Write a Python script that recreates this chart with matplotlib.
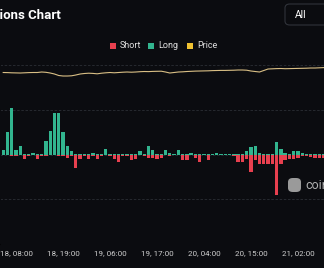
import numpy as np
import pandas as pd
import matplotlib.pyplot as plt
from matplotlib.patches import FancyBboxPatch, Rectangle

plt.rcParams['font.family'] = ['Roboto', 'DejaVu Sans']

# hourly liquidations (millions USD) and price
hours = pd.date_range('2024-06-18 05:00', periods=76, freq='h')
long_liq = [0.11, 0.49, 1.04, 0.09, 0.2, 0.01, 0.02, 0.04, 0.01, 0.02,
            0.29, 0.53, 0.93, 0.93, 0.49, 0.2, 0.07, 0.01, 0.01, 0.02,
            0.01, 0.04, 0.01, 0.02, 0.13, 0.01, 0.01, 0.01, 0.02, 0.02,
            0.01, 0.02, 0.07, 0.02, 0.18, 0.11, 0.02, 0.02, 0.11, 0.03,
            0.02, 0.09, 0.01, 0.01, 0.03, 0.01, 0.01, 0.02, 0.01, 0.02,
            0.04, 0.02, 0.02, 0.02, 0.01, 0.01, 0.02, 0.07, 0.16, 0.2,
            0.04, 0.01, 0.01, 0.02, 0.27, 0.13, 0.04, 0.02, 0.07, 0.07,
            0.03, 0.02, 0.02, 0.01, 0.02, 0.02]
short_liq = [0.01, 0.02, 0.04, 0.04, 0.02, 0.11, 0.04, 0.02, 0.11, 0.04,
             0.04, 0.02, 0.02, 0.04, 0.04, 0.07, 0.04, 0.29, 0.11, 0.04,
             0.09, 0.04, 0.11, 0.04, 0.02, 0.04, 0.11, 0.16, 0.04, 0.04,
             0.13, 0.09, 0.02, 0.04, 0.07, 0.07, 0.09, 0.07, 0.02, 0.04,
             0.02, 0.02, 0.13, 0.13, 0.02, 0.07, 0.16, 0.02, 0.13, 0.02,
             0.02, 0.02, 0.02, 0.02, 0.04, 0.16, 0.16, 0.09, 0.38, 0.13,
             0.2, 0.2, 0.22, 0.22, 0.89, 0.22, 0.13, 0.11, 0.09, 0.07,
             0.04, 0.04, 0.06, 0.07, 0.07, 0.07]
price = [2437.5, 2437, 2436, 2435.5, 2435, 2436, 2437, 2437.5, 2437.5, 2440,
         2438.5, 2435, 2430, 2422.5, 2420, 2420, 2421, 2425, 2430, 2432.5,
         2434, 2433, 2431, 2434, 2436, 2437.5, 2436, 2437.5, 2439, 2440,
         2439, 2440, 2441.5, 2442.5, 2442, 2443, 2443.5, 2444, 2440, 2435,
         2437.5, 2440, 2441, 2442.5, 2443.5, 2444.5, 2445, 2445.5, 2446, 2447,
         2447.5, 2448, 2448, 2448.5, 2449, 2450, 2450, 2449, 2445, 2442.5,
         2440, 2447.5, 2455, 2456, 2457, 2457.5, 2456.5, 2457, 2457.5, 2458,
         2458.5, 2459, 2460, 2460, 2461, 2462]

bg = '#0b0c10'
red = '#e8404f'
green = '#32b58f'
yellow = '#f0c232'

fig = plt.figure(figsize=(3.24, 2.68), dpi=100, facecolor=bg)
ax = fig.add_axes([0, 0.0877, 1, 0.6716])
ax.set_facecolor(bg)

x = np.arange(len(hours))
ax.bar(x, long_liq, width=0.78, color=green, zorder=3)
ax.bar(x, [-v for v in short_liq], width=0.78, color=red, zorder=3)

ax.set_xlim(-0.75, 75.1)
ax.set_ylim(-2, 2)
ax.set_yticks([-2, -1, 0, 1, 2])
ax.yaxis.grid(True, color='#2b2e35', linestyle=(0, (3, 2)), linewidth=0.6, zorder=0)
ax.tick_params(axis='y', left=False, labelleft=False)

ticks = list(range(3, 76, 11))
ax.set_xticks(ticks)
ax.set_xticklabels([hours[i].strftime('%d, %H:%M') for i in ticks],
                   color='#cfcfcf', fontsize=5.8)
ax.tick_params(axis='x', length=0, pad=4)
for s in ax.spines.values():
    s.set_visible(False)

ax2 = ax.twinx()
ax2.plot(x, price, color='#d9bf85', linewidth=0.8, zorder=4)
ax2.set_ylim(1577.5, 2477.5)
ax2.set_yticks([])
for s in ax2.spines.values():
    s.set_visible(False)

# title (cut off on the left like the screenshot)
fig.text(61 / 324, 1 - 15 / 268, 'Liquidations Chart', color='white',
         fontsize=9.5, fontweight='bold', ha='right', va='center')

# "All" selector box
fig.patches.append(FancyBboxPatch((285 / 324, 1 - 25 / 268), 0.2, 21 / 268,
                                  boxstyle='round,pad=0,rounding_size=0.015',
                                  transform=fig.transFigure, facecolor=bg,
                                  edgecolor='#30333a', linewidth=0.8))
fig.text(295 / 324, 1 - 15 / 268, 'All', color='white', fontsize=7.5, va='center')

# legend
ly = 1 - 46 / 268
for lx, c, lab in [(110, red, 'Short'), (148, green, 'Long'), (187, yellow, 'Price')]:
    fig.patches.append(Rectangle((lx / 324, ly - 3 / 268), 6 / 324, 6 / 268,
                                 transform=fig.transFigure, facecolor=c))
    fig.text((lx + 10) / 324, ly, lab, color='#e0e0e0', fontsize=6.5, va='center')

# watermark
fig.patches.append(FancyBboxPatch((288 / 324, 1 - 192 / 268), 13 / 324, 14 / 268,
                                  boxstyle='round,pad=0,rounding_size=0.015',
                                  transform=fig.transFigure, facecolor='#9a9a9a',
                                  edgecolor='none'))
fig.text(305 / 324, 1 - 185 / 268, 'coinglass', color='#b0b0b0', fontsize=9,
         va='center')

fig.savefig('out.png', dpi=100, facecolor=bg)
